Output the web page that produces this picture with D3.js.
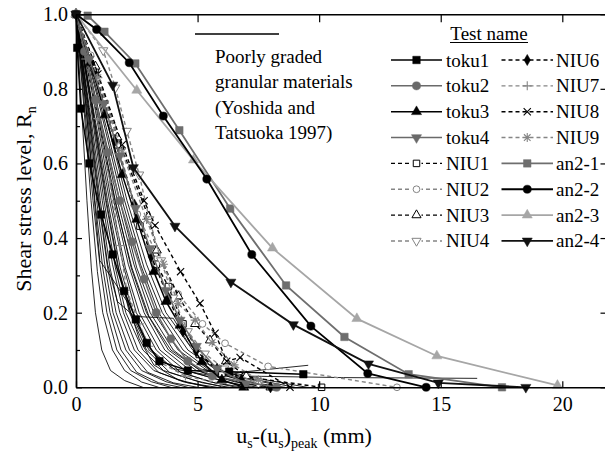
<!DOCTYPE html>
<html><head><meta charset="utf-8">
<script src="https://cdn.jsdelivr.net/npm/d3@7"></script>
<style>
body{margin:0;background:#fff}
svg{display:block}
svg text{font-family:"Liberation Serif","Times New Roman",serif}
</style>
</head><body>
<svg id="c" width="605" height="453"></svg>
<script>
// ---------- data ----------
const xTicks = [0, 5, 10, 15, 20];
const yTicks = [0, 0.2, 0.4, 0.6, 0.8, 1.0];
const yMinorTicks = [0.1, 0.3, 0.5, 0.7, 0.9];
const xTickLabels = ["0", "5", "10", "15", "20"];
const yTickLabels = ["0.0", "0.2", "0.4", "0.6", "0.8", "1.0"];

// Poorly graded granular materials (Yoshida and Tatsuoka 1997): thin black curves
const yt01 = [[0,1],[0.22,0.76],[0.45,0.5],[0.63,0.32],[0.8,0.2],[1.06,0.1],[1.42,0.045],[2.0,0.018],[2.75,0]];
const yt03 = [[0,1],[0.3,0.77],[0.62,0.5],[0.88,0.31],[1.1,0.2],[1.5,0.1],[2.0,0.045],[2.7,0.014],[3.4,0]];
const yt04 = [[0,1],[0.36,0.75],[0.7,0.5],[0.98,0.33],[1.27,0.2],[1.68,0.1],[2.25,0.045],[3.1,0.015],[3.9,0]];
const yt05 = [[0,1],[0.38,0.77],[0.78,0.5],[1.1,0.32],[1.4,0.2],[1.85,0.1],[2.5,0.04],[3.4,0.012],[4.3,0]];
const yt06 = [[0,1],[0.43,0.76],[0.85,0.5],[1.18,0.33],[1.52,0.2],[2.05,0.1],[2.7,0.045],[3.7,0.015],[4.6,0]];
const yt07 = [[0,1],[0.46,0.76],[0.92,0.5],[1.3,0.32],[1.65,0.2],[2.2,0.1],[2.95,0.04],[4.0,0.012],[5.0,0]];
const yt08 = [[0,1],[0.5,0.76],[1.0,0.5],[1.4,0.32],[1.8,0.2],[2.4,0.1],[3.2,0.045],[4.4,0.015],[5.5,0]];
const yt09 = [[0,1],[0.55,0.75],[1.08,0.5],[1.5,0.33],[1.95,0.2],[2.55,0.1],[3.4,0.04],[4.6,0.012],[5.8,0]];
const yt10 = [[0,1],[0.57,0.77],[1.15,0.5],[1.62,0.32],[2.05,0.2],[2.75,0.1],[3.6,0.045],[4.9,0.018],[6.1,0]];
const yt11 = [[0,1],[0.62,0.76],[1.22,0.5],[1.7,0.33],[2.2,0.2],[2.9,0.1],[3.85,0.04],[5.2,0.012],[6.3,0]];
const yt12 = [[0,1],[0.65,0.76],[1.3,0.5],[1.82,0.32],[2.35,0.2],[3.1,0.1],[4.1,0.045],[5.5,0.015],[6.6,0]];
const yt13 = [[0,1],[0.7,0.75],[1.38,0.5],[1.93,0.33],[2.48,0.2],[3.3,0.1],[4.3,0.04],[5.7,0.012],[6.9,0]];
const yt14 = [[0,1],[0.72,0.77],[1.45,0.5],[2.03,0.32],[2.6,0.2],[3.45,0.1],[4.5,0.045],[6.0,0.018],[7.2,0]];
const yt15 = [[0,1],[0.78,0.76],[1.55,0.5],[2.15,0.33],[2.8,0.2],[3.65,0.1],[4.8,0.04],[6.3,0.012],[7.5,0]];
const yt16 = [[0,1],[0.8,0.76],[1.62,0.5],[2.27,0.32],[2.9,0.2],[3.8,0.1],[4.95,0.045],[6.5,0.015],[7.8,0]];
const yt17 = [[0,1],[0.85,0.76],[1.7,0.5],[2.38,0.33],[3.05,0.2],[4.0,0.1],[5.2,0.04],[6.8,0.012],[8.0,0]];
const yt18 = [[0,1],[0.9,0.75],[1.8,0.5],[2.5,0.32],[3.2,0.2],[4.2,0.1],[5.4,0.045],[7.0,0.015],[8.3,0]];
const yt19 = [[0,1],[0.95,0.76],[1.9,0.5],[2.65,0.33],[3.4,0.2],[4.4,0.1],[5.6,0.04],[7.3,0.012],[8.6,0]];
const yt20 = [[0,1],[1.0,0.76],[2.0,0.5],[2.8,0.32],[3.55,0.2],[4.6,0.1],[5.8,0.045],[7.6,0.018],[9.0,0]];
const yt21 = [[0,1],[1.05,0.77],[2.1,0.5],[2.9,0.33],[3.7,0.2],[4.8,0.1],[6.0,0.045],[7.8,0.02],[9.5,0]];
const yt22 = [[0,1],[0.45,0.78],[0.95,0.5],[1.3,0.33],[1.7,0.23],[2.4,0.19],[4.0,0.185],[4.6,0.12],[5.5,0.06],[6.5,0.03],[8.0,0.01]];
const yt23 = [[0,1],[0.8,0.76],[1.6,0.5],[2.3,0.32],[3.0,0.19],[3.9,0.1],[5.0,0.05],[7.0,0.03],[11.0,0.026],[16.5,0.024]];
const yt24 = [[0,1],[0.6,0.78],[1.25,0.5],[1.75,0.32],[2.25,0.2],[3.0,0.1],[4.0,0.05],[5.5,0.032],[9.55,0.059]];
const yt25 = [[0,1],[0.4,0.76],[0.98,0.34],[1.5,0.29],[2.1,0.23],[2.6,0.13],[3.2,0.06],[4.2,0.02],[5.5,0]];
const yoshidaCurves = [yt01,yt03,yt04,yt05,yt06,yt07,yt08,yt09,yt10,yt11,yt12,yt13,yt14,yt15,yt16,yt17,yt18,yt19,yt20,yt21,yt22,yt23,yt24,yt25];

// Test series
const toku1 = [[0,1],[0.05,0.91],[0.2,0.747],[0.55,0.6],[1.03,0.463],[1.51,0.356],[1.98,0.258],[2.46,0.182],[2.91,0.119],[3.43,0.07],[4.6,0.045],[6.3,0.042],[9.35,0.035]];
const toku2 = [[0,1],[0.35,0.9],[0.8,0.77],[1.3,0.63],[1.8,0.5],[2.3,0.39],[2.8,0.29],[3.3,0.2],[3.9,0.13],[4.6,0.07],[5.6,0.03],[8.25,0.0]];
const toku3 = [[0,1],[0.6,0.87],[1.2,0.73],[1.9,0.57],[2.5,0.45],[3.2,0.31],[3.7,0.23],[4.28,0.166],[5.17,0.068],[6.0,0.02],[6.9,0.0]];
const toku4 = [[0,1],[0.55,0.88],[1.15,0.76],[1.8,0.62],[2.45,0.48],[3.05,0.372],[3.7,0.26],[4.28,0.18],[4.95,0.11],[5.8,0.05],[7.0,0.01]];
const niu1 = [[0,1],[0.8,0.85],[1.7,0.65],[2.63,0.432],[3.3,0.33],[3.8,0.27],[4.4,0.17],[5.07,0.088],[6.0,0.037],[10.1,0.0]];
const niu2 = [[0,1],[0.6,0.89],[1.5,0.7],[2.52,0.464],[3.3,0.36],[4.2,0.25],[5.2,0.17],[6.13,0.118],[7.9,0.056],[13.2,0.0]];
const niu3 = [[0,1],[0.8,0.86],[1.7,0.67],[2.98,0.457],[3.32,0.367],[4.21,0.244],[4.9,0.17],[5.51,0.126],[6.17,0.07],[7.0,0.03],[8.0,0.0]];
const niu4 = [[0,1],[1.12,0.903],[1.62,0.803],[2.09,0.687],[2.6,0.57],[3.02,0.45],[3.5,0.34],[4.0,0.24],[4.6,0.15],[5.3,0.09],[6.1,0.05],[7.5,0.01]];
const niu6 = [[0,1],[0.8,0.84],[1.6,0.66],[2.4,0.49],[3.1,0.35],[3.8,0.24],[4.4,0.15],[4.94,0.097],[5.8,0.05],[6.8,0.02],[8.0,0.0]];
const niu7 = [[0,1],[0.4,0.88],[0.9,0.72],[1.4,0.55],[1.8,0.38],[2.09,0.26],[2.6,0.17],[3.0,0.11],[3.43,0.068],[4.5,0.03],[6.0,0.01]];
const niu8 = [[0,1],[0.9,0.84],[1.9,0.65],[2.8,0.5],[3.25,0.434],[4.3,0.31],[5.1,0.225],[5.72,0.145],[6.2,0.07],[6.75,0.08],[8.8,0.0]];
const niu9 = [[0,1],[0.9,0.83],[1.9,0.63],[2.9,0.45],[3.6,0.33],[4.21,0.224],[4.9,0.18],[5.6,0.12],[6.5,0.06],[7.5,0.02]];
const an21 = [[0,1],[0.48,0.996],[1.17,0.953],[2.44,0.868],[4.25,0.689],[6.34,0.479],[8.64,0.273],[11.04,0.135],[13.68,0.035],[17.52,0.0]];
const an22 = [[0,1],[0.85,0.959],[2.19,0.87],[3.59,0.727],[5.38,0.558],[7.23,0.356],[9.66,0.164],[12.0,0.037],[14.4,0.0]];
const an23 = [[0,1],[2.5,0.796],[4.83,0.609],[8.08,0.373],[11.55,0.184],[14.84,0.084],[19.8,0.005]];
const an24 = [[0,1],[1.51,0.81],[2.36,0.589],[4.07,0.432],[6.37,0.282],[8.94,0.168],[12.03,0.063],[14.9,0.012],[18.5,0.0]];

const seriesNames = ["toku1","toku2","toku3","toku4","NIU1","NIU2","NIU3","NIU4","NIU6","NIU7","NIU8","NIU9","an2-1","an2-2","an2-3","an2-4"];
const seriesValues = [toku1,toku2,toku3,toku4,niu1,niu2,niu3,niu4,niu6,niu7,niu8,niu9,an21,an22,an23,an24];
const noteLines = ["Poorly graded","granular materials","(Yoshida and","Tatsuoka 1997)"];

// ---------- styles ----------
const FONT = "Liberation Serif, Times New Roman, serif";
const styles = {
  "toku1": {c:"#000", dash:null, sym:"square", fill:"#000", w:1.5},
  "toku2": {c:"#6a6a6a", dash:null, sym:"circle", fill:"#6a6a6a", w:1.5},
  "toku3": {c:"#000", dash:null, sym:"tri", fill:"#000", w:1.5},
  "toku4": {c:"#6a6a6a", dash:null, sym:"tridown", fill:"#6a6a6a", w:1.5},
  "NIU1": {c:"#000", dash:"4,3", sym:"square", fill:"#fff", w:1.4},
  "NIU2": {c:"#858585", dash:"4,3", sym:"circle", fill:"#fff", w:1.4},
  "NIU3": {c:"#000", dash:"4,3", sym:"tri", fill:"#fff", w:1.4},
  "NIU4": {c:"#858585", dash:"4,3", sym:"tridown", fill:"#fff", w:1.4},
  "NIU6": {c:"#000", dash:"4,3", sym:"diamond", fill:"#000", w:1.4},
  "NIU7": {c:"#858585", dash:"4,3", sym:"plus", fill:"none", w:1.4},
  "NIU8": {c:"#000", dash:"4,3", sym:"times", fill:"none", w:1.4},
  "NIU9": {c:"#858585", dash:"4,3", sym:"star", fill:"none", w:1.4},
  "an2-1": {c:"#6e6e6e", dash:null, sym:"square", fill:"#6e6e6e", w:1.8},
  "an2-2": {c:"#000", dash:null, sym:"circle", fill:"#000", w:1.8},
  "an2-3": {c:"#a6a6a6", dash:null, sym:"tri", fill:"#a6a6a6", w:1.8},
  "an2-4": {c:"#111", dash:null, sym:"tridown", fill:"#111", w:1.8}
};

function symPath(sym, open) {
  switch (sym) {
    case "square": return d3.symbol(d3.symbolSquare, open ? 42 : 56)();
    case "circle": return d3.symbol(d3.symbolCircle, open ? 36 : 52)();
    case "tri": return d3.symbol(d3.symbolTriangle, open ? 36 : 44)();
    case "tridown": return d3.symbol(d3.symbolTriangle, open ? 36 : 44)();
    case "diamond": return d3.symbol(d3.symbolDiamond, 36)();
    case "plus": return "M-4.5,0H4.5M0,-4.5V4.5";
    case "times": return "M-3.6,-3.6L3.6,3.6M-3.6,3.6L3.6,-3.6";
    case "star": return "M-4.5,0H4.5M0,-4.5V4.5M-3.3,-3.3L3.3,3.3M-3.3,3.3L3.3,-3.3";
  }
}

// ---------- layout ----------
const svg = d3.select("#c");
const X0 = 76, X1 = 608.5, Y0 = 387.3, Y1 = 14.2;
const x = d3.scaleLinear().domain([0, 21.9]).range([X0, X1]);
const y = d3.scaleLinear().domain([0, 1]).range([Y0, Y1]);

const line = d3.line().x(d => x(d[0])).y(d => y(d[1]));

// thin curves
svg.append("g").selectAll("path").data(yoshidaCurves).join("path")
  .attr("d", line).attr("fill", "none").attr("stroke", "#000").attr("stroke-width", 0.85);

// series lines + markers
const order = [4,5,6,7,8,9,10,11,0,1,2,3,12,14,13,15];
order.forEach(i => {
  const name = seriesNames[i], st = styles[name], data = seriesValues[i];
  const g = svg.append("g");
  g.append("path").attr("d", line(data)).attr("fill", "none")
    .attr("stroke", st.c).attr("stroke-width", st.w)
    .attr("stroke-dasharray", st.dash);
  const open = st.fill === "#fff";
  g.selectAll("path.m").data(data).join("path").attr("class", "m")
    .attr("d", symPath(st.sym, open))
    .attr("transform", d => `translate(${x(d[0])},${y(d[1])})` + (st.sym === "tridown" ? " rotate(180)" : ""))
    .attr("fill", st.fill).attr("stroke", st.c)
    .attr("stroke-width", (st.fill === "none") ? 1.1 : (open ? 1 : 0.5));
});

// ---------- axes ----------
const axG = svg.append("g").attr("class", "axes");
const fmtX = (d, i) => xTickLabels[i];
const fmtY = (d, i) => yTickLabels[i];

axG.append("g").attr("transform", `translate(0,${Y0})`)
  .call(d3.axisBottom(x).tickValues(xTicks).tickFormat(fmtX).tickSizeInner(-6).tickSizeOuter(0).tickPadding(10));
axG.append("g").attr("transform", `translate(0,${Y1})`)
  .call(d3.axisTop(x).tickValues(xTicks).tickFormat("").tickSizeInner(-8).tickSizeOuter(0));
axG.append("g").attr("transform", `translate(${X0},0)`)
  .call(d3.axisLeft(y).tickValues(yTicks).tickFormat(fmtY).tickSizeInner(-6).tickSizeOuter(0).tickPadding(8));
axG.append("g").attr("transform", `translate(${X0},0)`)
  .call(d3.axisLeft(y).tickValues(yMinorTicks).tickFormat("").tickSizeInner(-4).tickSizeOuter(0));
axG.append("g").attr("transform", `translate(${X1},0)`)
  .call(d3.axisRight(y).tickValues(yTicks).tickFormat("").tickSizeInner(-8).tickSizeOuter(0));
axG.selectAll("g").attr("font-family", FONT);
axG.selectAll("path.domain").attr("stroke", "#000").attr("stroke-width", 1.4);
axG.selectAll(".tick line").attr("stroke", "#000").attr("stroke-width", 1.2);
axG.selectAll(".tick text").attr("font-size", 20).attr("font-family", FONT).attr("fill", "#000");

// axis titles
const xt = svg.append("text").attr("x", 304).attr("y", 443).attr("text-anchor", "middle")
  .attr("font-family", FONT).attr("font-size", 22).attr("fill", "#000");
xt.append("tspan").text("u");
xt.append("tspan").attr("font-size", 14).attr("dy", 5).text("s");
xt.append("tspan").attr("dy", -5).text("-(u");
xt.append("tspan").attr("font-size", 14).attr("dy", 5).text("s");
xt.append("tspan").attr("dy", -5).text(")");
xt.append("tspan").attr("font-size", 14).attr("dy", 5).text("peak");
xt.append("tspan").attr("dy", -5).text(" (mm)");

const yt = svg.append("text").attr("transform", "translate(31,199) rotate(-90)")
  .attr("text-anchor", "middle").attr("font-family", FONT).attr("font-size", 22).attr("fill", "#000");
yt.append("tspan").text("Shear stress level, R");
yt.append("tspan").attr("font-size", 14).attr("dy", 5).text("n");

// ---------- annotation ----------
svg.append("line").attr("x1", 195).attr("x2", 279).attr("y1", 34).attr("y2", 34)
  .attr("stroke", "#000").attr("stroke-width", 1.4);
svg.append("g").selectAll("text").data(noteLines).join("text")
  .attr("x", 215).attr("y", (d, i) => 63 + i * 25.4)
  .attr("font-family", FONT).attr("font-size", 19).attr("fill", "#000").text(d => d);

// ---------- legend ----------
const lg = svg.append("g");
lg.append("text").attr("x", 489).attr("y", 40).attr("text-anchor", "middle")
  .attr("font-family", FONT).attr("font-size", 19).attr("fill", "#000").text("Test name");
lg.append("line").attr("x1", 450).attr("x2", 528).attr("y1", 42.5).attr("y2", 42.5)
  .attr("stroke", "#000").attr("stroke-width", 1);

seriesNames.forEach((name, i) => {
  const col = i < 8 ? 0 : 1, row = i % 8;
  const st = styles[name];
  const cy = 60 + row * 25.85;
  const lx1 = col ? 501.5 : 391, lx2 = col ? 553 : 442, mx = (lx1 + lx2) / 2;
  lg.append("line").attr("x1", lx1).attr("x2", lx2).attr("y1", cy).attr("y2", cy)
    .attr("stroke", st.c).attr("stroke-width", st.w).attr("stroke-dasharray", st.dash);
  const open = st.fill === "#fff";
  if (open) lg.append("rect").attr("x", mx - 5).attr("y", cy - 5).attr("width", 10).attr("height", 10).attr("fill", "#fff");
  lg.append("path").attr("d", symPath(st.sym, open))
    .attr("transform", `translate(${mx},${cy})` + (st.sym === "tridown" ? " rotate(180)" : ""))
    .attr("fill", st.fill).attr("stroke", st.c)
    .attr("stroke-width", (st.fill === "none") ? 1.1 : (open ? 1 : 0.5));
  lg.append("text").attr("x", col ? 556 : 446).attr("y", cy + 6.5)
    .attr("font-family", FONT).attr("font-size", 19).attr("fill", "#000").text(name);
});
</script>
</body></html>
